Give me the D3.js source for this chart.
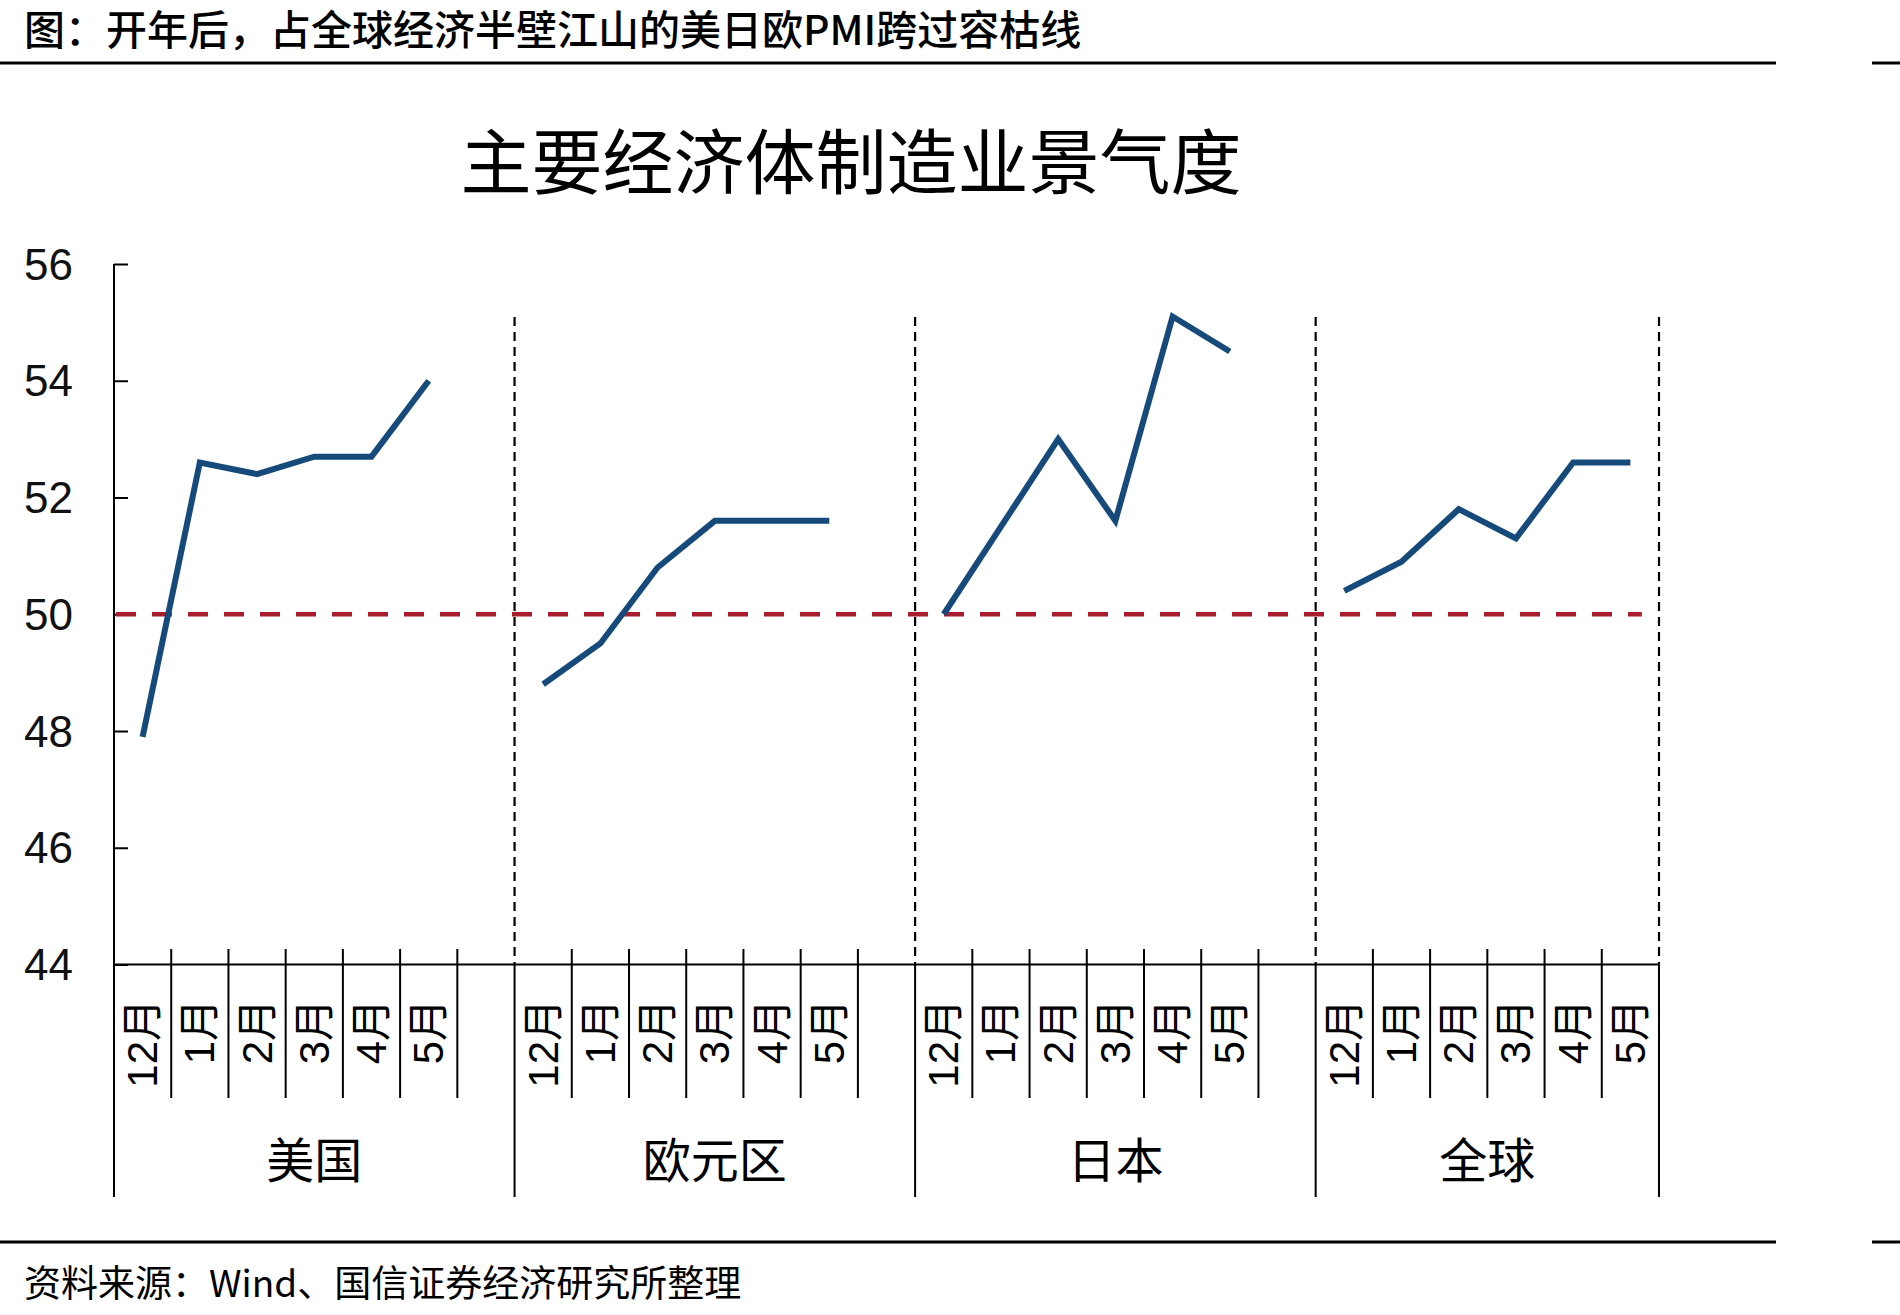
<!DOCTYPE html>
<html>
<head>
<meta charset="utf-8">
<script src="https://cdn.jsdelivr.net/npm/d3@7"></script>
<style>
  body { margin: 0; background: #fff; }
  svg { display: block; }
</style>
</head>
<body>
<div id="chart-area"></div>
<script>
// groups and months
const groups = ["美国", "欧元区", "日本", "全球"];
const months = ["12月", "1月", "2月", "3月", "4月", "5月"];

// PMI values per group
const usValues = [47.9, 52.6, 52.4, 52.7, 52.7, 54.0];
const euroValues = [48.8, 49.5, 50.8, 51.6, 51.6, 51.6];
const japanValues = [50.0, 51.5, 53.0, 51.6, 55.1, 54.5];
const globalValues = [50.4, 50.9, 51.8, 51.3, 52.6, 52.6];

const yTicks = [44, 46, 48, 50, 52, 54, 56];
const lineOf50 = 50;

const seriesList = [usValues, euroValues, japanValues, globalValues];
// slots per group: 6 months + 1 blank, last group has no blank
const slotsPerGroup = [7, 7, 7, 6];

const W = 1900, H = 1315;
const plotLeft = 114, plotRight = 1659, plotTop = 264, plotBottom = 964.5;

const svg = d3.select("#chart-area")
    .append("svg")
    .attr("width", W)
    .attr("height", H);

const cjk = "'Noto Sans CJK SC', sans-serif";
const num = "'Liberation Sans', 'Noto Sans CJK SC', sans-serif";

// header + footer
svg.append("text")
    .attr("x", 24).attr("y", 27)
    .attr("dominant-baseline", "central")
    .attr("font-family", cjk)
    .attr("font-weight", 500)
    .attr("font-size", 41)
    .attr("fill", "#000")
    .text("图：开年后，占全球经济半壁江山的美日欧PMI跨过容枯线");

[63, 1242].forEach(yy => {
    svg.append("line").attr("x1", 0).attr("x2", 1776).attr("y1", yy).attr("y2", yy)
        .attr("stroke", "#000").attr("stroke-width", 3);
    svg.append("line").attr("x1", 1872).attr("x2", 1900).attr("y1", yy).attr("y2", yy)
        .attr("stroke", "#000").attr("stroke-width", 3);
});

svg.append("text")
    .attr("x", 24).attr("y", 1281)
    .attr("dominant-baseline", "central")
    .attr("font-family", cjk)
    .attr("font-size", 37)
    .attr("fill", "#000")
    .text("资料来源：Wind、国信证券经济研究所整理");

// chart title
svg.append("text")
    .attr("x", 851).attr("y", 157)
    .attr("text-anchor", "middle")
    .attr("dominant-baseline", "central")
    .attr("font-family", cjk)
    .attr("font-weight", 400)
    .attr("font-size", 71)
    .attr("fill", "#000")
    .text("主要经济体制造业景气度");

// scales
const totalSlots = d3.sum(slotsPerGroup);
const x = d3.scaleLinear().domain([0, totalSlots]).range([plotLeft, plotRight]);
const y = d3.scaleLinear().domain([44, 56]).range([plotBottom, plotTop]);

const groupStart = [];
let acc = 0;
slotsPerGroup.forEach(n => { groupStart.push(acc); acc += n; });

// y axis
const yAxis = svg.append("g")
    .attr("transform", `translate(${plotLeft},0)`)
    .call(d3.axisRight(y).tickValues(yTicks).tickSize(14).tickFormat(""));
yAxis.select(".domain").remove();
yAxis.selectAll("line").attr("stroke", "#000").attr("stroke-width", 2);

svg.selectAll(".ylab")
    .data(yTicks)
    .join("text")
    .attr("class", "ylab")
    .attr("x", 73)
    .attr("y", d => y(d))
    .attr("text-anchor", "end")
    .attr("dominant-baseline", "central")
    .attr("font-family", num)
    .attr("font-size", 44)
    .attr("fill", "#111")
    .text(d => d);

svg.append("line")
    .attr("x1", plotLeft).attr("x2", plotLeft)
    .attr("y1", y(56)).attr("y2", 1197)
    .attr("stroke", "#000").attr("stroke-width", 2);

// x axis line
svg.append("line")
    .attr("x1", plotLeft).attr("x2", plotRight)
    .attr("y1", plotBottom).attr("y2", plotBottom)
    .attr("stroke", "#000").attr("stroke-width", 2);

// group separators: dashed above axis, solid below
groups.forEach((g, i) => {
    const xe = x(groupStart[i] + slotsPerGroup[i]);
    svg.append("line")
        .attr("x1", xe).attr("x2", xe)
        .attr("y1", 317).attr("y2", plotBottom)
        .attr("stroke", "#000").attr("stroke-width", 2.2)
        .attr("stroke-dasharray", "9,6");
    svg.append("line")
        .attr("x1", xe).attr("x2", xe)
        .attr("y1", plotBottom).attr("y2", 1197)
        .attr("stroke", "#000").attr("stroke-width", 2);

    // inner month ticks
    for (let k = 1; k < slotsPerGroup[i]; k++) {
        const xt = x(groupStart[i] + k);
        svg.append("line")
            .attr("x1", xt).attr("x2", xt)
            .attr("y1", 949).attr("y2", 1098)
            .attr("stroke", "#000").attr("stroke-width", 2);
    }

    // month labels
    months.forEach((m, j) => {
        const xc = x(groupStart[i] + j + 0.5);
        svg.append("text")
            .attr("transform", `translate(${xc},999) rotate(-90)`)
            .attr("text-anchor", "end")
            .attr("dominant-baseline", "central")
            .attr("font-family", num)
            .attr("font-size", 42)
            .attr("fill", "#000")
            .text(m);
    });

    // group label
    const gc = (x(groupStart[i]) + xe) / 2;
    svg.append("text")
        .attr("x", gc).attr("y", 1157)
        .attr("text-anchor", "middle")
        .attr("dominant-baseline", "central")
        .attr("font-family", cjk)
        .attr("font-size", 48)
        .attr("fill", "#000")
        .text(g);
});

// 50 line
svg.append("line")
    .attr("x1", plotLeft + 2).attr("x2", x(totalSlots - 0.3))
    .attr("y1", y(lineOf50)).attr("y2", y(lineOf50))
    .attr("stroke", "#A81E2C").attr("stroke-width", 4.5)
    .attr("stroke-dasharray", "20,16");

// series lines
const line = d3.line()
    .x(d => d.x)
    .y(d => y(d.v));

seriesList.forEach((vals, i) => {
    const pts = vals.map((v, j) => ({ x: x(groupStart[i] + j + 0.5), v: v }));
    svg.append("path")
        .datum(pts)
        .attr("fill", "none")
        .attr("stroke", "#154A7B")
        .attr("stroke-width", 6)
        .attr("stroke-linejoin", "miter")
        .attr("d", line);
});
</script>
</body>
</html>
